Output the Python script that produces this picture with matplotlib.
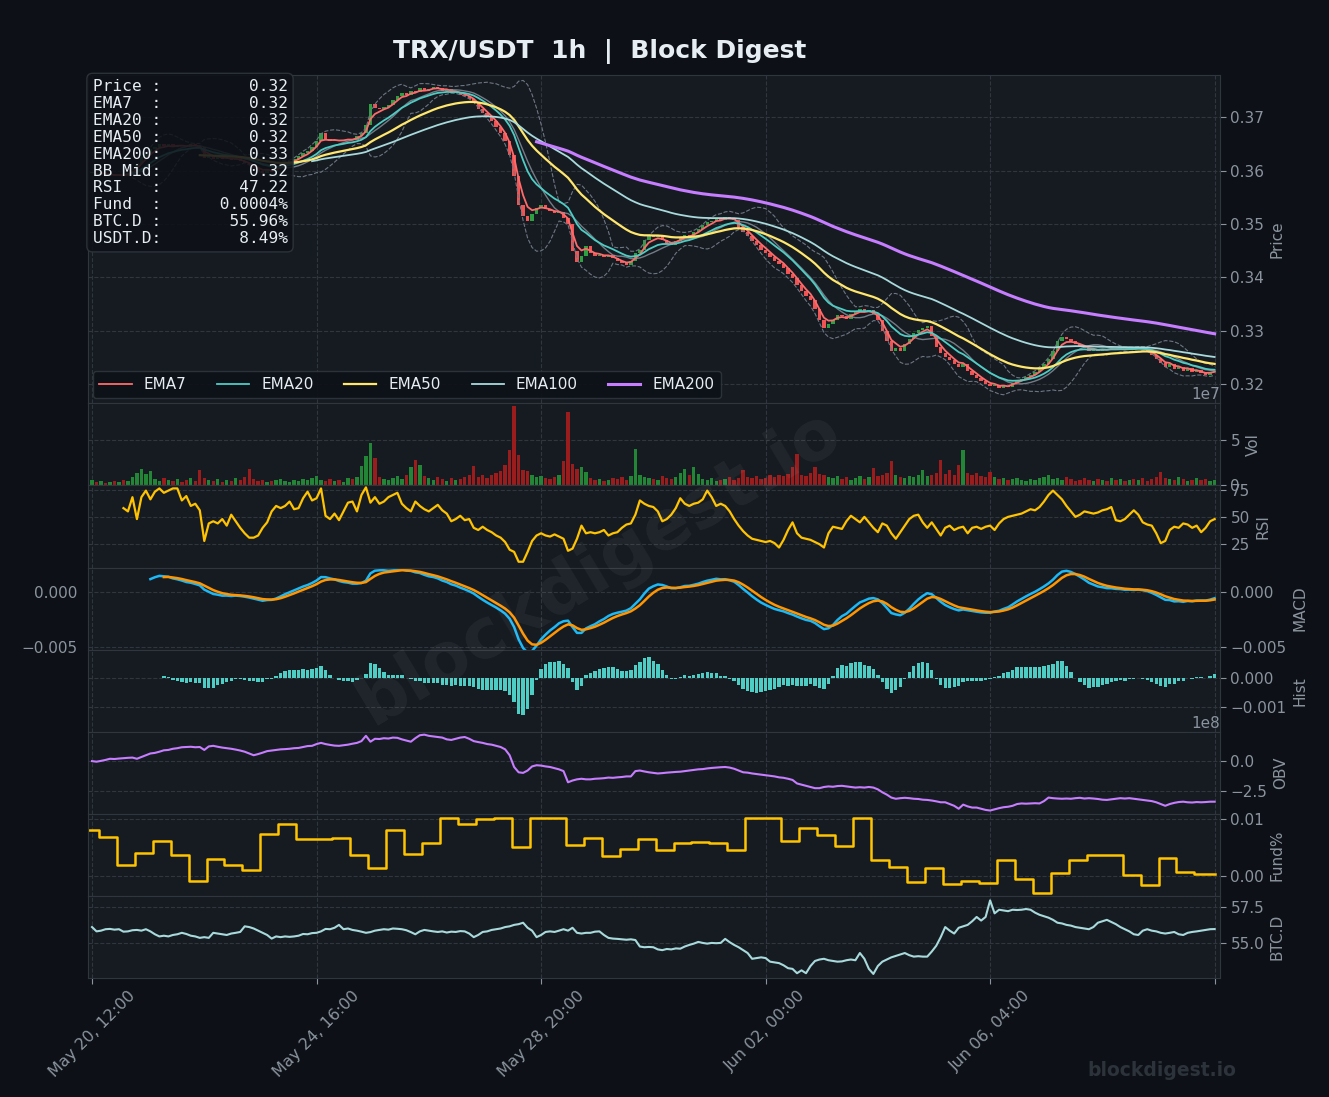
import numpy as np
import pandas as pd
import matplotlib
matplotlib.use("Agg")
import matplotlib.pyplot as plt

BG = "#0d1117"
PANEL = "#161b22"
GRID = "#30363d"
MUTED = "#8b949e"
TEXT = "#e6edf3"

STEP = 2  # hours between the samples below (1h chart)

# close price, bars 0, 2, 4 ... 500
close = np.array([
    0.3596, 0.3593, 0.3598, 0.3590, 0.3594, 0.3589, 0.3592, 0.3590, 0.3595, 0.3600,
    0.3612, 0.3625, 0.3632, 0.3641, 0.3645, 0.3650, 0.3646, 0.3649, 0.3644, 0.3648,
    0.3647, 0.3645, 0.3649, 0.3646, 0.3644, 0.3624, 0.3627, 0.3622, 0.3625, 0.3621,
    0.3624, 0.3620, 0.3623, 0.3618, 0.3614, 0.3610, 0.3605, 0.3600, 0.3596, 0.3602,
    0.3598, 0.3604, 0.3610, 0.3615, 0.3618, 0.3622, 0.3627, 0.3633, 0.3636, 0.3645,
    0.3655, 0.3670, 0.3660, 0.3656, 0.3658, 0.3655, 0.3657, 0.3660, 0.3658, 0.3664,
    0.3670, 0.3685, 0.3725, 0.3718, 0.3716, 0.3720, 0.3722, 0.3732, 0.3740, 0.3746,
    0.3742, 0.3750, 0.3748, 0.3754, 0.3750, 0.3752, 0.3757, 0.3755, 0.3750, 0.3752,
    0.3746, 0.3748, 0.3742, 0.3740, 0.3735, 0.3728, 0.3716, 0.3708, 0.3700, 0.3692,
    0.3682, 0.3670, 0.3655, 0.3630, 0.3590, 0.3535, 0.3515, 0.3505, 0.3518, 0.3530,
    0.3535, 0.3528, 0.3525, 0.3520, 0.3522, 0.3512, 0.3500, 0.3450, 0.3428, 0.3440,
    0.3458, 0.3445, 0.3440, 0.3442, 0.3438, 0.3441, 0.3436, 0.3430, 0.3426, 0.3424,
    0.3430, 0.3445, 0.3452, 0.3470, 0.3478, 0.3475, 0.3478, 0.3470, 0.3464, 0.3460,
    0.3468, 0.3475, 0.3480, 0.3478, 0.3485, 0.3490, 0.3498, 0.3503, 0.3506, 0.3512,
    0.3508, 0.3514, 0.3510, 0.3508, 0.3495, 0.3485, 0.3478, 0.3468, 0.3460, 0.3452,
    0.3446, 0.3438, 0.3430, 0.3425, 0.3418, 0.3406, 0.3398, 0.3385, 0.3375, 0.3365,
    0.3358, 0.3340, 0.3320, 0.3305, 0.3312, 0.3320, 0.3330, 0.3328, 0.3322, 0.3332,
    0.3336, 0.3340, 0.3335, 0.3338, 0.3332, 0.3320, 0.3300, 0.3280, 0.3262, 0.3268,
    0.3262, 0.3275, 0.3285, 0.3296, 0.3302, 0.3305, 0.3308, 0.3290, 0.3270, 0.3258,
    0.3250, 0.3245, 0.3238, 0.3232, 0.3238, 0.3225, 0.3218, 0.3212, 0.3205, 0.3200,
    0.3196, 0.3198, 0.3193, 0.3197, 0.3195, 0.3203, 0.3208, 0.3210, 0.3214, 0.3218,
    0.3222, 0.3230, 0.3238, 0.3248, 0.3262, 0.3280, 0.3288, 0.3285, 0.3280, 0.3276,
    0.3272, 0.3268, 0.3262, 0.3265, 0.3262, 0.3266, 0.3264, 0.3268, 0.3265, 0.3267,
    0.3264, 0.3268, 0.3266, 0.3270, 0.3265, 0.3262, 0.3255, 0.3248, 0.3240, 0.3232,
    0.3238, 0.3228, 0.3232, 0.3225, 0.3230, 0.3222, 0.3226, 0.3220, 0.3218, 0.3222,
    0.3225,
])

# volume in millions, same bars
volume_m = np.array([
    6, 4, 5, 3, 4, 5, 4, 6, 5, 9,
    14, 18, 13, 16, 7, 5, 8, 6, 5, 7,
    4, 6, 8, 5, 17, 8, 6, 5, 7, 4,
    6, 5, 8, 6, 9, 18, 7, 5, 6, 4,
    5, 6, 7, 5, 4, 6, 5, 7, 6, 8,
    10, 6, 5, 7, 5, 6, 4, 8, 7, 9,
    21, 32, 47, 30, 9, 7, 6, 8, 10, 7,
    12, 20, 28, 22, 10, 8, 6, 9, 7, 5,
    8, 6, 7, 9, 11, 21, 9, 11, 8, 12,
    14, 16, 22, 39, 87, 33, 17, 16, 12, 9,
    10, 8, 7, 9, 11, 27, 81, 24, 18, 20,
    15, 8, 6, 7, 5, 6, 8, 7, 9, 6,
    10, 40, 12, 9, 8, 7, 6, 10, 8, 7,
    9, 14, 18, 12, 20, 13, 7, 6, 8, 5,
    6, 7, 9, 6, 8, 17, 9, 8, 10, 7,
    8, 11, 9, 12, 10, 13, 20, 35, 12, 10,
    14, 20, 13, 11, 9, 8, 10, 7, 9, 6,
    8, 10, 7, 9, 19, 10, 12, 14, 27, 11,
    9, 8, 10, 9, 12, 17, 10, 12, 14, 28,
    13, 17, 12, 22, 39, 14, 11, 14, 10, 9,
    15, 9, 7, 8, 6, 7, 8, 6, 5, 7,
    6, 8, 9, 12, 7, 8, 6, 9, 7, 5,
    6, 8, 6, 5, 7, 6, 5, 8, 6, 7,
    5, 6, 7, 6, 8, 5, 7, 9, 15, 8,
    7, 6, 9, 7, 5, 6, 8, 6, 7, 5,
    6,
])

# RSI(14), same bars (starts after the warm-up)
rsi_vals = np.array([
    np.nan, np.nan, np.nan, np.nan, np.nan, np.nan, np.nan, 58, 55, 68,
    48, 68, 74, 66, 73, 76, 72, 74, 76, 76,
    65, 69, 60, 62, 56, 28, 44, 46, 44, 48,
    42, 52, 46, 40, 35, 31, 31, 33, 40, 45,
    55, 60, 58, 60, 64, 57, 58, 67, 73, 65,
    67, 76, 51, 48, 53, 47, 55, 63, 64, 55,
    70, 77, 63, 68, 62, 64, 68, 70, 72, 62,
    58, 55, 64, 60, 57, 55, 58, 61, 56, 53,
    46, 48, 51, 47, 48, 40, 38, 41, 38, 36,
    33, 31, 27, 20, 18, 9, 9, 18, 28, 33,
    35, 33, 32, 34, 32, 30, 19, 21, 30, 42,
    35, 36, 35, 36, 38, 33, 35, 36, 40, 43,
    44, 52, 65, 62, 60, 59, 55, 46, 48, 52,
    58, 67, 62, 60, 62, 63, 66, 74, 68, 60,
    62, 60, 55, 48, 42, 37, 33, 30, 29, 28,
    27, 28, 26, 22, 29, 38, 45, 35, 31, 30,
    29, 27, 25, 22, 35, 41, 40, 39, 46, 51,
    48, 45, 50, 45, 40, 36, 44, 42, 35, 30,
    36, 42, 48, 51, 52, 45, 40, 45, 39, 33,
    40, 42, 38, 40, 41, 35, 40, 41, 39, 41,
    42, 38, 44, 48, 50, 51, 52, 53, 55, 57,
    56, 59, 64, 70, 74, 70, 66, 60, 55, 50,
    52, 55, 54, 53, 54, 56, 57, 59, 47, 46,
    48, 52, 56, 52, 45, 43, 42, 35, 26, 28,
    38, 41, 40, 44, 43, 40, 42, 36, 40, 46,
    48,
])

# on-balance volume in units of 1e8, same bars
obv_e8 = np.array([
    0.00, -0.05, 0.02, 0.10, 0.20, 0.18, 0.22, 0.25, 0.28, 0.30,
    0.20, 0.35, 0.50, 0.65, 0.70, 0.80, 0.92, 0.95, 1.05, 1.10,
    1.18, 1.20, 1.22, 1.18, 1.20, 0.95, 1.25, 1.30, 1.22, 1.15,
    1.10, 1.05, 0.98, 0.90, 0.80, 0.65, 0.50, 0.60, 0.72, 0.85,
    0.90, 0.95, 1.00, 1.02, 1.05, 1.10, 1.12, 1.20, 1.28, 1.30,
    1.45, 1.55, 1.45, 1.38, 1.32, 1.30, 1.35, 1.40, 1.48, 1.55,
    1.70, 2.15, 1.65, 1.90, 1.88, 1.95, 1.92, 2.00, 1.98, 1.85,
    1.75, 1.65, 1.95, 2.20, 2.25, 2.15, 2.10, 2.05, 2.00, 1.85,
    1.80, 1.90, 2.00, 2.05, 1.90, 1.70, 1.62, 1.55, 1.45, 1.40,
    1.30, 1.20, 1.00, 0.50, -0.50, -0.95, -1.00, -0.80, -0.45, -0.35,
    -0.38, -0.45, -0.50, -0.60, -0.70, -0.85, -1.80, -1.65, -1.55, -1.50,
    -1.55, -1.55, -1.50, -1.48, -1.45, -1.40, -1.42, -1.38, -1.35, -1.30,
    -1.30, -0.85, -0.80, -0.88, -0.95, -1.00, -1.05, -1.02, -0.98, -0.95,
    -0.92, -0.90, -0.85, -0.80, -0.75, -0.70, -0.68, -0.62, -0.58, -0.55,
    -0.52, -0.50, -0.55, -0.65, -0.80, -0.95, -0.98, -1.05, -1.10, -1.15,
    -1.20, -1.25, -1.30, -1.38, -1.42, -1.50, -1.60, -1.90, -2.00, -2.10,
    -2.20, -2.30, -2.30, -2.20, -2.15, -2.18, -2.12, -2.10, -2.15, -2.20,
    -2.25, -2.22, -2.25, -2.20, -2.25, -2.40, -2.65, -2.85, -3.10, -3.20,
    -3.15, -3.12, -3.15, -3.20, -3.22, -3.28, -3.30, -3.35, -3.42, -3.50,
    -3.50, -3.65, -3.80, -4.05, -3.70, -3.85, -3.95, -3.95, -4.05, -4.15,
    -4.20, -4.10, -4.00, -3.92, -3.88, -3.80, -3.65, -3.60, -3.62, -3.60,
    -3.58, -3.60, -3.40, -3.10, -3.15, -3.18, -3.20, -3.18, -3.20, -3.15,
    -3.12, -3.18, -3.15, -3.18, -3.22, -3.28, -3.30, -3.25, -3.20, -3.15,
    -3.18, -3.15, -3.20, -3.25, -3.30, -3.35, -3.40, -3.50, -3.65, -3.80,
    -3.65, -3.55, -3.48, -3.45, -3.50, -3.52, -3.48, -3.50, -3.48, -3.45,
    -3.45,
])

# BTC dominance %, same bars
btc_dom = np.array([
    56.10, 55.80, 55.85, 55.95, 55.97, 55.92, 55.95, 55.78, 55.80, 55.88,
    55.90, 55.85, 55.95, 55.80, 55.60, 55.45, 55.50, 55.45, 55.55, 55.60,
    55.70, 55.62, 55.50, 55.45, 55.35, 55.40, 55.35, 55.70, 55.65, 55.60,
    55.55, 55.65, 55.70, 55.76, 56.15, 56.10, 56.00, 55.85, 55.70, 55.55,
    55.30, 55.45, 55.40, 55.45, 55.42, 55.45, 55.50, 55.62, 55.60, 55.68,
    55.70, 55.80, 55.97, 55.95, 56.05, 56.25, 55.95, 56.00, 55.90, 55.85,
    55.78, 55.70, 55.75, 55.85, 55.90, 55.95, 55.92, 56.00, 55.98, 55.95,
    55.88, 55.75, 55.60, 55.80, 55.90, 55.85, 55.80, 55.76, 55.80, 55.72,
    55.78, 55.76, 55.82, 55.80, 55.65, 55.40, 55.55, 55.76, 55.80, 55.90,
    55.95, 56.00, 56.10, 56.15, 56.25, 56.30, 56.40, 56.05, 55.85, 55.40,
    55.55, 55.76, 55.80, 55.76, 55.85, 55.95, 55.85, 56.05, 55.70, 55.65,
    55.70, 55.70, 55.78, 55.80, 55.55, 55.35, 55.30, 55.28, 55.25, 55.22,
    55.25, 55.20, 54.75, 54.70, 54.72, 54.70, 54.55, 54.50, 54.58, 54.55,
    54.62, 54.60, 54.75, 54.86, 54.95, 55.07, 55.00, 54.95, 55.00, 54.98,
    55.00, 55.28, 55.05, 54.86, 54.70, 54.50, 54.30, 53.90, 53.95, 54.00,
    53.95, 53.70, 53.65, 53.60, 53.45, 53.25, 53.20, 52.90, 53.10, 52.90,
    53.40, 53.75, 53.85, 53.90, 53.80, 53.75, 53.70, 53.72, 53.80, 53.85,
    53.80, 54.30, 53.90, 53.20, 52.85, 53.40, 53.70, 53.85, 54.00, 54.10,
    54.20, 54.30, 54.15, 54.05, 54.08, 54.05, 54.05, 54.40, 54.80, 55.40,
    56.10, 55.85, 55.65, 56.05, 56.15, 56.25, 56.50, 56.80, 56.55, 56.80,
    57.95, 57.05, 57.30, 57.25, 57.20, 57.30, 57.28, 57.30, 57.35, 57.30,
    57.10, 56.95, 56.85, 56.75, 56.60, 56.40, 56.35, 56.25, 56.20, 56.10,
    56.05, 56.00, 55.95, 56.10, 56.40, 56.50, 56.60, 56.45, 56.30, 56.10,
    55.95, 55.80, 55.60, 55.55, 55.85, 55.95, 55.85, 55.80, 55.70, 55.65,
    55.70, 55.76, 55.60, 55.55, 55.70, 55.76, 55.80, 55.85, 55.90, 55.95,
    55.96,
])

# funding rate %, one value per 8h window starting at bar -5
FUND_FIRST_BAR = -5
FUND_EVERY = 8
fund_rate = np.array([
    0.0081, 0.0069, 0.0019, 0.0040, 0.0062, 0.0036, -0.0009, 0.0029, 0.0019, 0.0010,
    0.0074, 0.0091, 0.0064, 0.0064, 0.0067, 0.0036, 0.0014, 0.0081, 0.0038, 0.0057,
    0.0102, 0.0090, 0.0100, 0.0101, 0.0050, 0.0101, 0.0101, 0.0055, 0.0067, 0.0035,
    0.0048, 0.0064, 0.0045, 0.0057, 0.0060, 0.0057, 0.0046, 0.0101, 0.0101, 0.0062,
    0.0084, 0.0072, 0.0053, 0.0101, 0.0028, 0.0016, -0.0010, 0.0014, -0.0014, -0.0009,
    -0.0012, 0.0028, -0.0005, -0.0029, 0.0005, 0.0028, 0.0036, 0.0036, 0.0002, -0.0016,
    0.0031, 0.0007, 0.0004,
])

tick_bars = [0, 100, 200, 300, 400, 500]
tick_labels = ["May 20, 12:00", "May 24, 16:00", "May 28, 20:00",
               "Jun 02, 00:00", "Jun 06, 04:00", ""]

info_names = ["Price", "EMA7", "EMA20", "EMA50", "EMA200", "BB Mid",
              "RSI", "Fund", "BTC.D", "USDT.D"]
info_values = ["0.32", "0.32", "0.32", "0.32", "0.33", "0.32",
               "47.22", "0.0004%", "55.96%", "8.49%"]

ema_periods = [7, 20, 50, 100, 200]
ema_colors = ["#ff6b6b", "#4ecdc4", "#ffe66d", "#a8dadc", "#c77dff"]
ema_widths = [1.3, 1.3, 1.6, 1.3, 2.2]

# ---- indicators (periods are in hours, data is every STEP hours)
bars = np.arange(len(close)) * STEP
c = pd.Series(close)


def ema(series, n):
    return series.ewm(span=n / STEP, adjust=False, min_periods=max(1, n // STEP)).mean()


bb_mid = c.rolling(20 // STEP).mean()
bb_sd = c.rolling(20 // STEP).std(ddof=0)

macd = c.ewm(span=12 / STEP, adjust=False).mean() - c.ewm(span=26 / STEP, adjust=False).mean()
macd[: 26 // STEP] = np.nan
signal = macd.ewm(span=9 / STEP, adjust=False, min_periods=9 // STEP).mean()
hist = macd - signal

opn = np.r_[close[0], close[:-1]]
up = close >= opn

# ---- figure
fig = plt.figure(figsize=(13.29, 10.97), dpi=100, facecolor=BG)
gs = fig.add_gridspec(8, 1, height_ratios=[4, 1, 1, 1, 1, 1, 1, 1], hspace=0,
                      left=0.0662, right=0.918, top=0.9316, bottom=0.1085)
axes = [fig.add_subplot(gs[0])]
for i in range(1, 8):
    axes.append(fig.add_subplot(gs[i], sharex=axes[0]))
ax_p, ax_v, ax_r, ax_m, ax_h, ax_o, ax_f, ax_b = axes

for ax in axes:
    ax.set_facecolor(PANEL)
    ax.yaxis.tick_right()
    ax.yaxis.set_label_position("right")
    ax.tick_params(colors=MUTED, labelsize=11, length=4)
    ax.grid(True, color=GRID, ls="--", lw=0.8)
    for sp in ax.spines.values():
        sp.set_color(GRID)
    ax.yaxis.get_offset_text().set_color(MUTED)
    ax.yaxis.get_offset_text().set_fontsize(11)
    ax.tick_params(axis="x", labelbottom=False, length=0)
    ax.set_axisbelow(True)

# price
ax_p.bar(bars, np.maximum(np.abs(close - opn), 0.00012), bottom=np.minimum(close, opn),
         width=1.5, color=np.where(up, "#2ea043", "#f05454"), zorder=2)
ax_p.plot(bars, bb_mid + 2 * bb_sd, color="#6e7681", ls="--", lw=0.8, zorder=3)
ax_p.plot(bars, bb_mid - 2 * bb_sd, color="#6e7681", ls="--", lw=0.8, zorder=3)
ax_p.plot(bars, bb_mid, color=MUTED, lw=1.0, alpha=0.8, zorder=3)
for n, col, lw in zip(ema_periods, ema_colors, ema_widths):
    ax_p.plot(bars, ema(c, n), color=col, lw=lw, label=f"EMA{n}", zorder=4)
ax_p.set_ylim(0.3164, 0.3779)
ax_p.set_ylabel("Price", color=MUTED, fontsize=11)
leg = ax_p.legend(loc="lower left", ncol=5, fontsize=11, facecolor=BG, edgecolor=GRID,
                  framealpha=0.9, labelcolor=TEXT, handlelength=2.1, handletextpad=0.8,
                  columnspacing=2.0, borderaxespad=0.35)
leg.set_zorder(6)

info = "\n".join(f"{n:<6}:{v:>13}" for n, v in zip(info_names, info_values))
ax_p.text(0.004, 0.988, info, transform=ax_p.transAxes, va="top", ha="left",
          family="DejaVu Sans Mono", fontsize=11.6, color=TEXT, linespacing=1.16, zorder=7,
          bbox=dict(boxstyle="round,pad=0.35", fc=BG, ec=GRID, alpha=0.88))

# volume
ax_v.bar(bars, volume_m * 1e6, width=1.5, color=np.where(up, "#238636", "#9b1c1c"))
ax_v.set_ylim(0, 9.0e7)
ax_v.set_yticks([0, 5e7])
ax_v.set_ylabel("Vol", color=MUTED, fontsize=11)

# rsi
ax_r.plot(bars, rsi_vals, color="#ffc300", lw=1.6)
ax_r.set_ylim(3.7, 78.7)
ax_r.set_yticks([25, 50, 75])
ax_r.set_ylabel("RSI", color=MUTED, fontsize=11)

# macd
ax_m.plot(bars, macd, color="#1eb8f5", lw=1.8)
ax_m.plot(bars, signal, color="#ff9500", lw=1.8)
ax_m.set_ylim(-0.00527, 0.00218)
ax_m.set_yticks([-0.005, 0.0])
ax_m.tick_params(axis="y", labelleft=True, labelright=True)
ax_m.set_ylabel("MACD", color=MUTED, fontsize=11)

# histogram
ax_h.bar(bars, hist, width=1.5, color="#4ecdc4")
ax_h.set_ylim(-0.00186, 0.00097)
ax_h.set_yticks([-0.001, 0.0])
ax_h.set_ylabel("Hist", color=MUTED, fontsize=11)

# obv
ax_o.plot(np.arange(len(obv_e8)) * STEP, obv_e8 * 1e8, color="#c77dff", lw=1.5)
ax_o.set_ylim(-4.48e8, 2.5e8)
ax_o.set_yticks([-2.5e8, 0])
ax_o.set_ylabel("OBV", color=MUTED, fontsize=11)

# funding
fund_x = FUND_FIRST_BAR + FUND_EVERY * np.arange(len(fund_rate))
ax_f.step(np.r_[fund_x, bars[-1]], np.r_[fund_rate, fund_rate[-1]], where="post",
          color="#ffc300", lw=1.8)
ax_f.set_ylim(-0.00345, 0.01086)
ax_f.set_yticks([0.0, 0.01])
ax_f.set_ylabel("Fund%", color=MUTED, fontsize=11)

# btc dominance
ax_b.plot(np.arange(len(btc_dom)) * STEP, btc_dom, color="#a8dadc", lw=1.5)
ax_b.set_ylim(52.57, 58.26)
ax_b.set_yticks([55.0, 57.5])
ax_b.set_ylabel("BTC.D", color=MUTED, fontsize=11)

ax_b.set_xlim(-1.8, 502.4)
ax_b.set_xticks(tick_bars)
ax_b.set_xticklabels(tick_labels, rotation=45)
ax_b.tick_params(axis="x", labelbottom=True, length=4, colors=MUTED, labelsize=11.5)

fig.text(0.451, 0.953, "TRX/USDT  1h  |  Block Digest", ha="center", va="center",
         fontsize=18, fontweight="bold", color=TEXT)
fig.text(0.45, 0.483, "blockdigest.io", ha="center", va="center", rotation=31,
         fontsize=50, fontweight="bold", color="white", alpha=0.05, zorder=10)
fig.text(0.874, 0.024, "blockdigest.io", ha="center", va="center",
         fontsize=13.5, fontweight="bold", color="#2d333b")

fig.savefig("out.png", dpi=100, facecolor=BG)
